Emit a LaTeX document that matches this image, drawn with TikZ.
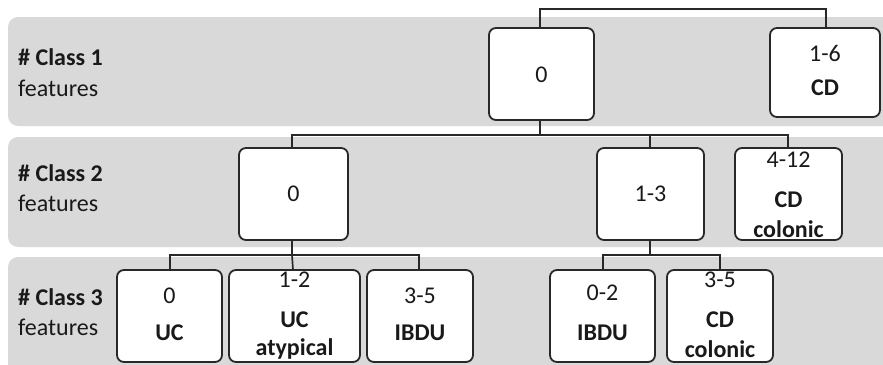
\documentclass[tikz,border=0pt]{standalone}
\usepackage{fontspec}
\setmainfont{Carlito}
\begin{document}
\begin{tikzpicture}[x=1pt,y=-1pt,
  band/.style={fill=bandgray,draw=none,rounded corners=10pt},
  box/.style={draw=linegray,line width=1.8pt,fill=white,rounded corners=7pt,inner sep=0pt,outer sep=0pt,minimum height=92pt},
  conn/.style={draw=linegray,line width=1.7pt},
  lbl/.style={font=\fontsize{24}{24}\selectfont\bfseries,anchor=west,inner sep=0pt,text=txt},
  lblr/.style={font=\fontsize{24}{24}\selectfont,anchor=west,inner sep=0pt,text=txt},
  num/.style={font=\fontsize{24}{24}\selectfont,inner sep=0pt,text=txt},
  word/.style={font=\fontsize{24}{24}\selectfont\bfseries,inner sep=0pt,text=txt}]
\definecolor{bandgray}{RGB}{217,217,217}
\definecolor{linegray}{RGB}{40,40,40}
\definecolor{txt}{RGB}{25,25,25}
\useasboundingbox (0,0) rectangle (883,364);
\clip (0,0) rectangle (883,364);
% bands
\path[band] (8,17) rectangle (900,126);
\path[band] (8,137) rectangle (900,247);
\path[band] (8,257) rectangle (900,380);
% class labels
\node[lbl]  (c1a) at (18,57) {\# Class 1};
\node[lblr] (c1b) at (18,88) {features};
\node[lbl]  (c2a) at (18,173) {\# Class 2};
\node[lblr] (c2b) at (18,203) {features};
\node[lbl]  (c3a) at (18,297) {\# Class 3};
\node[lblr] (c3b) at (18,327) {features};
% coordinates for connector bends
\coordinate (root) at (682,9);
\coordinate (j1) at (540,135);
\coordinate (j2a) at (292,255);
\coordinate (j2b) at (650,255);
% connectors (drawn under boxes)
\coordinate (p1a) at (540,28);
\coordinate (p1b) at (826,28);
\draw[conn] (p1a) |- (root) -| (p1b);
\coordinate (p1as) at (540,120);
\coordinate (p2a) at (292,148);
\coordinate (p2b) at (650,148);
\coordinate (p2c) at (788,148);
\draw[conn] (p1as) -- (j1);
\draw[conn] (p2a) |- (j1);
\draw[conn] (j1) -| (p2b);
\draw[conn] (j1) -| (p2c);
\coordinate (p2as) at (292,240);
\coordinate (p3a) at (170,270);
\coordinate (p3b) at (293,270);
\coordinate (p3c) at (419,270);
\draw[conn] (p2as) -- (j2a);
\draw[conn] (p3a) |- (j2a) -| (p3c);
\draw[conn] (j2a) -- (p3b);
\coordinate (p2bs) at (650,240);
\coordinate (p3d) at (603,270);
\coordinate (p3e) at (720,270);
\draw[conn] (p2bs) -- (j2b);
\draw[conn] (p3d) |- (j2b) -| (p3e);
% level 1 boxes
\node[box,minimum width=105pt] (n1a) at (541.5,74) {};
\node[box,minimum width=110pt,minimum height=89pt] (n1b) at (825,72.5) {};
% level 2 boxes
\node[box,minimum width=109pt] (n2a) at (293.5,194) {};
\node[box,minimum width=107pt] (n2b) at (650.5,194) {};
\node[box,minimum width=107pt] (n2c) at (788.5,194) {};
% level 3 boxes
\node[box,minimum width=105pt] (n3a) at (169.5,316) {};
\node[box,minimum width=131pt] (n3b) at (294.5,316) {};
\node[box,minimum width=106pt] (n3c) at (420,316) {};
\node[box,minimum width=105pt] (n3d) at (602.5,316) {};
\node[box,minimum width=106pt] (n3e) at (720,316) {};
% texts
\node[num]  (t1a) at (541.5,75) {0};
\node[num]  (t1b1) at (825,53) {1-6};
\node[word] (t1b2) at (825,88) {CD};
\node[num]  (t2a) at (293.5,194) {0};
\node[num]  (t2b) at (650.5,194) {1-3};
\node[num]  (t2c1) at (788.5,160) {4-12};
\node[word] (t2c2) at (788.5,200) {CD};
\node[word] (t2c3) at (788.5,229) {colonic};
\node[num]  (t3a1) at (169.5,296) {0};
\node[word] (t3a2) at (169.5,333) {UC};
\node[num]  (t3b1) at (294.5,280) {1-2};
\node[word] (t3b2) at (294.5,320) {UC};
\node[word] (t3b3) at (294.5,349) {atypical};
\node[num]  (t3c1) at (420,296) {3-5};
\node[word] (t3c2) at (420,333) {IBDU};
\node[num]  (t3d1) at (602.5,293) {0-2};
\node[word] (t3d2) at (602.5,333) {IBDU};
\node[num]  (t3e1) at (720,280) {3-5};
\node[word] (t3e2) at (720,320) {CD};
\node[word] (t3e3) at (720,349) {colonic};
\end{tikzpicture}
\end{document}
